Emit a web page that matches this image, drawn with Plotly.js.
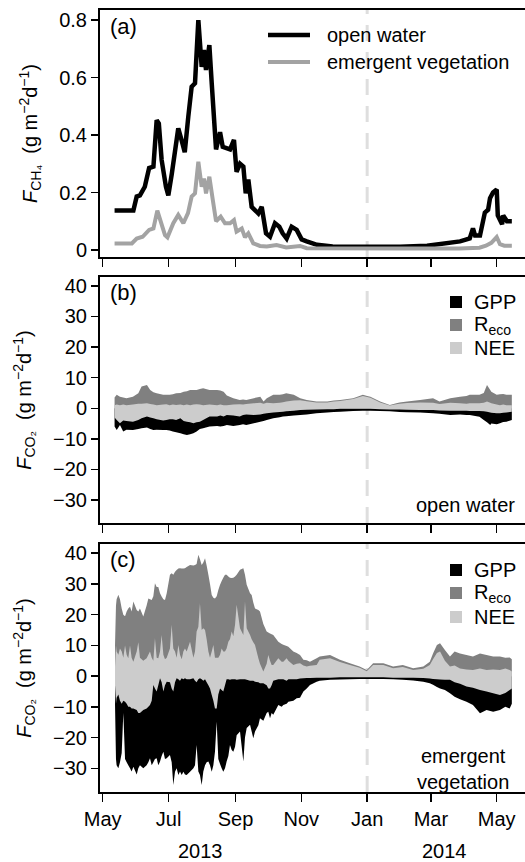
<!DOCTYPE html>
<html>
<head>
<meta charset="utf-8">
<script src="https://cdn.plot.ly/plotly-3.0.1.min.js"></script>
<style>
html,body{margin:0;padding:0;overflow:hidden;background:#fff;width:525px;height:862px;}
#chart{width:540px;height:862px;}
</style>
</head>
<body>
<div id="chart"></div>
<script>
// ---------- DATA (x values are days since 2013-05-01) ----------
// Panel (a): CH4 flux
const ch4DayOpenWater = [11,13,28.4,31.5,34.5,39,43,47,50,52,54.6,58.6,60.8,64,68,70,73,76,79.3,82.4,85.5,88.6,91.7,93.8,95.7,98.8,101,105,108.7,111.2,118,121.6,124,127.2,130.3,132.5,134.9,138,141,144.2,147.3,151.3,155,159.6,163.6,166.7,170.4,175,179.7,184.3,189,198.5,213,245,275.5,300.5,312.5,321.7,331,335.6,340,343,345,349.5,354,357,358.8,361.6,365,366,370,371,374.5,379];
const ch4OpenWater = [0.137,0.137,0.137,0.186,0.19,0.22,0.285,0.29,0.452,0.44,0.313,0.22,0.19,0.265,0.36,0.423,0.383,0.34,0.464,0.568,0.58,0.80,0.637,0.696,0.626,0.713,0.58,0.35,0.41,0.359,0.35,0.383,0.272,0.30,0.29,0.197,0.245,0.15,0.139,0.127,0.15,0.058,0.046,0.093,0.081,0.058,0.04,0.081,0.07,0.037,0.03,0.018,0.012,0.011,0.011,0.015,0.02,0.025,0.03,0.035,0.04,0.075,0.05,0.05,0.13,0.14,0.18,0.20,0.21,0.12,0.09,0.12,0.10,0.10];
const ch4DayEmergent = [11,27,31.5,37,43,47,50.6,52.5,57.7,60,65.4,70,74.7,79,82.4,85.5,88.6,91.7,93.8,95.7,98.8,102,105,109.3,113.3,118,121.6,124,128.8,131.8,134.9,139.5,145.7,152,161,170,182.8,189,220,280,330,349,355,360,365,368,372,379];
const ch4Emergent = [0.023,0.023,0.04,0.046,0.07,0.075,0.137,0.116,0.052,0.044,0.093,0.122,0.093,0.128,0.186,0.197,0.307,0.22,0.249,0.197,0.255,0.174,0.10,0.116,0.093,0.093,0.104,0.064,0.075,0.044,0.058,0.023,0.014,0.012,0.017,0.009,0.014,0.006,0.005,0.005,0.005,0.008,0.015,0.025,0.045,0.02,0.015,0.015];

// Panel (b): CO2 fluxes, open water (envelopes)
const owDay = [11,13,16,19,22,28,33,36,41,44,47,50,56,59,62,65,68,72,75,78,81,84,87,90,93,99,106,109,112,115,121,127,130,133,140,146,149,152,158,164,167,170,177,183,189,198,208,214,220,232,241,245,248,257,266,272,275,282,294,306,312,322,331,337,340,349,353,356,359,360,365,368,371,374,379];
const owReco = [3.5,4.4,3.8,3.5,3.3,3.8,4.9,7.1,7.6,6.0,5.2,4.9,4.4,4.4,4.4,4.6,4.9,5.0,5.4,5.6,6.0,6.0,6.0,6.3,6.5,6.0,6.0,5.8,5.4,4.2,3.3,2.7,2.9,2.7,3.3,3.8,2.2,3.3,4.4,4.4,4.6,4.9,4.4,3.3,2.7,2.2,2.2,2.5,2.7,3.3,4.4,4.0,3.8,2.2,1.1,1.6,1.9,2.2,2.7,3.3,2.2,3.3,3.8,4.0,4.4,4.4,5.0,7.6,6.0,5.4,4.4,4.6,4.7,4.4,4.4];
const owNeeHigh = [1.0,1.2,1.0,1.2,1.0,1.2,1.5,1.5,1.6,1.4,1.2,1.0,1.2,1.3,1.0,1.2,1.1,1.2,1.0,1.2,1.0,1.2,1.3,1.2,1.0,1.2,1.0,1.2,1.0,1.0,1.2,1.3,1.2,1.4,1.6,1.8,1.5,1.8,1.6,1.8,2.0,2.2,2.5,2.6,2.3,1.9,1.9,2.2,2.4,3.0,4.0,3.7,3.4,1.9,0.9,1.3,1.5,1.7,1.9,1.8,1.4,1.8,1.6,1.5,1.6,1.6,1.8,2.2,1.8,1.6,1.2,1.0,1.2,1.0,1.0];
const owNeeLow = [-3.0,-3.8,-4.9,-4.0,-4.2,-4.4,-3.8,-3.3,-2.7,-3.0,-3.3,-3.6,-4.0,-3.8,-3.6,-3.6,-3.8,-3.3,-4.2,-4.4,-4.6,-4.9,-4.6,-4.4,-3.8,-2.7,-2.7,-2.4,-2.7,-2.2,-2.4,-2.7,-2.2,-2.0,-2.2,-2.0,-1.8,-1.6,-1.4,-1.2,-1.1,-1.0,-0.8,-0.6,-0.5,-0.4,-0.3,-0.3,-0.2,-0.2,-0.2,-0.2,-0.2,-0.3,-0.4,-0.4,-0.4,-0.5,-0.6,-0.6,-0.7,-0.8,-0.8,-0.8,-0.9,-0.9,-1.0,-1.1,-1.4,-1.5,-1.6,-1.6,-1.5,-1.4,-1.1];
const owGpp = [-6.0,-7.1,-5.5,-7.6,-7.0,-7.1,-6.8,-6.5,-6.3,-6.8,-7.1,-7.0,-7.1,-7.1,-7.3,-7.6,-7.8,-8.2,-8.5,-8.7,-8.5,-8.2,-7.6,-6.8,-6.5,-6.0,-5.8,-6.0,-5.8,-5.5,-5.8,-5.5,-5.2,-5.5,-4.9,-4.4,-4.2,-3.8,-3.3,-2.9,-2.7,-2.6,-2.4,-2.2,-2.0,-1.6,-1.4,-1.2,-1.1,-0.9,-0.8,-0.8,-0.8,-0.9,-1.0,-1.1,-1.2,-1.3,-1.4,-1.6,-1.8,-2.2,-2.0,-2.2,-2.2,-2.8,-3.8,-4.6,-5.5,-5.0,-5.2,-4.9,-4.5,-4.4,-3.8];

// Panel (c): CO2 fluxes, emergent vegetation (envelopes)
const evDay = [11.4,12.3,12.9,14.5,16,17.6,19.1,20.7,22.2,23.7,
25.3,26.8,28.4,31.5,33,34.5,37.6,40.7,42.3,43.8,
45.4,46.9,48.4,50,51.5,53.1,54.6,56.2,57.7,59.3,
62.3,63.9,65.4,67,68.5,70.1,71.6,73.2,74.7,76.2,
77.8,80.9,84,85.5,87,88.6,90.1,91.7,93.2,94.8,
96.3,97.9,99.4,101,102.5,104,105.6,107.1,108.7,110.2,
111.7,113.3,114.8,116.4,117.9,119.5,121,122.6,124.1,127.2,
130.3,131.8,133.4,136.5,138,139.5,141.1,144.2,145.7,148.8,
151.9,153.4,155,156.5,158,162.7,165.8,167.3,170.4,172,
176.6,179.7,182.8,185.9,189,192,198.2,201,210.6,219.8,
229,238,244.6,250.5,260,269,278,287.6,297,303,
306,309.6,312.5,317,321.7,326,331,337,343,349.5,
355.6,361.7,368,373,377,379];
const evReco = [10,23,25,26.5,25,22,20,19.5,21,22,
22.6,21,24.3,21.5,21,22,19.4,23,25.3,25,
24.8,26,30.2,29,29,27,25.9,25,24.8,27,
33,33.5,33,34,34.5,35,35.1,35,35,35.1,
35.5,36.2,36,36.2,36.5,39.5,38,36.2,37,38.4,
36,33,30,26.4,25.5,25.3,26,28,29.7,31,
32,33,33,32.4,32,31.9,32,32.4,33,34.6,
35.1,33,29.7,27,26.4,24,22,21.5,21,17,
14.5,14.2,13.9,13.6,13.4,11.2,10.5,10.2,9.8,9.6,
8,7.5,6.9,5.3,5.2,4.7,5.8,6.4,6.9,5.3,
4.2,3.1,2.0,4.2,4.2,3.1,3.6,2.6,3.1,4.7,
7.4,10.1,10.7,8.5,6.4,8,7.4,6.9,6.4,7.4,
6.9,6.4,6.4,6.0,6.1,5.5];
const evNeeHigh = [3,10,8,7,9,8,6,10,7,5.8,
10,6,4.7,8,11,6,5,5.8,7,8,
6,5,12.3,6,5.8,8,13.4,7,5.5,6,
9,16.7,9,8,6,10.1,7,5.5,8,9,
8,11.2,6,8,14.5,16,23.7,15,15.6,15,
12,8,6,8,10.1,6,6,6,7,9,
8,8,9,11.2,12,14.5,13,16.7,23.2,15.6,
13.4,24.3,15.6,13.4,12,11,10.1,5.8,4,1.5,
4,6.9,5,3.6,3.6,5.8,4.7,4.7,5.8,5,
3.6,4,4.2,3.5,3.1,3.4,3.6,5.3,5.8,4.6,
3.6,2.7,1.6,3.6,3.6,2.6,3.0,2.0,2.4,3.6,
5.5,7.5,8,5,3.1,3.5,2.5,2.2,2.0,2.5,
2.0,2.2,2.0,2.5,2.0,1.5];
const evNeeLow = [-3,-9,-7,-6,-8,-9,-8,-8.3,-9,-10,
-10,-10.5,-10.5,-11,-12,-12,-11,-10.5,-10,-9.4,
-8,-2.9,-4,-5,-3,-0.7,-2,-5,-3,-1.8,
-2,-4,-5,-2,-0.7,-1,-1.5,-0.7,-1,-0.7,
-1,-1,-0.7,-1.5,-2,-1,-0.7,-1,-1.5,-1,
-2,-3,-4,-6.1,-8,-10.5,-10.5,-6,-4,-4.5,
-5,-3,-1,-1,-1.2,-1,-1,-1,-1.2,-1,
-1,-1,-1.2,-1.5,-1.5,-1.5,-1.8,-2,-2.3,-2.3,
-3,-4,-4,-3,-1.5,-1,-1,-1,-1.5,-1,
-1,-1,-0.8,-0.7,-0.6,-0.6,-0.5,-0.5,-0.5,-0.4,
-0.4,-0.4,-0.4,-0.4,-0.4,-0.5,-0.5,-0.5,-0.6,-0.8,
-0.9,-1,-1.1,-1.2,-1.2,-2,-2.5,-3.4,-3.8,-4.5,
-5.0,-5.6,-6.1,-5.5,-4.5,-4.0];
const evGpp = [-9,-27,-29,-30,-28,-25,-12,-27,-28,-29,
-30,-31,-29.5,-32,-30,-29,-30,-29,-28,-26.7,
-29,-28,-27,-26.7,-29,-27.8,-26,-24.6,-27,-26.7,
-25.7,-28,-35.4,-31.1,-30,-32.2,-31,-32.2,-31.1,-32,
-32.2,-31.1,-30,-29,-22.4,-31,-32.2,-35.4,-31,-29,
-28,-27.8,-29,-31.1,-29,-24.6,-14.8,-27,-28.6,-30,
-31.1,-30,-27.8,-26,-22.4,-24,-24.6,-23,-19.2,-18,
-27.8,-20,-16.9,-15.8,-18,-20.2,-18,-16,-13.7,-14.5,
-12,-11.6,-13.7,-12,-12.6,-9.4,-10,-9.4,-9,-8.3,
-8,-7.2,-7,-5,-4,-2.9,-1.8,-1.5,-1.2,-1.1,
-1.0,-0.9,-0.9,-0.9,-0.9,-1.0,-1.2,-1.4,-1.8,-2.3,
-2.8,-3.5,-4,-4.5,-5.6,-6.7,-7.5,-8.3,-9.4,-12.1,
-11,-11.6,-11,-10,-10.5,-9];

// Axis ticks and labels
const monthTickDates = ['2013-05-01','2013-07-01','2013-09-01','2013-11-01','2014-01-01','2014-03-01','2014-05-01'];
const monthTickLabels = ['May','Jul','Sep','Nov','Jan','Mar','May'];
const yearLabels = ['2013','2014'];
const yearLabelDates = ['2013-07-31','2014-03-14'];
const ch4TickVals = [0,0.2,0.4,0.6,0.8];
const ch4TickText = ['0','0.2','0.4','0.6','0.8'];
const co2TickVals = [-30,-20,-10,0,10,20,30,40];
const co2TickText = ['\u221230','\u221220','\u221210','0','10','20','30','40'];
const legendCH4 = ['open water','emergent vegetation'];
const legendCO2 = ['GPP','R<sub>eco</sub>','NEE'];

// ---------- helpers ----------
const BASE = Date.UTC(2013,4,1);
function dd(d){ return new Date(BASE + d*86400000).toISOString().slice(0,19).replace('T',' '); }
const W = 540, H = 862, L = 100;
const px = x => (x - L) / (W - L);   // page px -> paper x
const py = y => 1 - y / H;            // page px -> paper y

const FONT = 'Liberation Sans, Arial, Helvetica, sans-serif';
const FS = 20;
const BLACK = '#000000', RECO = '#808080', NEE = '#cccccc', EVLINE = '#a3a3a3';

const traces = [];
// (a)
traces.push({x: ch4DayOpenWater.map(dd), y: ch4OpenWater, type:'scatter', mode:'lines',
  line:{color:BLACK, width:4.5}, xaxis:'x', yaxis:'y', hoverinfo:'skip'});
traces.push({x: ch4DayEmergent.map(dd), y: ch4Emergent, type:'scatter', mode:'lines',
  line:{color:EVLINE, width:4}, xaxis:'x', yaxis:'y', hoverinfo:'skip'});
// (b) and (c): stacked areas; NEE drawn as a band between its low and high envelopes
function co2(day, reco, gpp, lo, hi, xa, ya){
  const x = day.map(dd);
  traces.push({x, y: reco, type:'scatter', mode:'none', fill:'tozeroy', fillcolor:RECO, xaxis:xa, yaxis:ya, hoverinfo:'skip'});
  traces.push({x, y: gpp, type:'scatter', mode:'none', fill:'tozeroy', fillcolor:BLACK, xaxis:xa, yaxis:ya, hoverinfo:'skip'});
  traces.push({x: x.concat(x.slice().reverse()), y: hi.concat(lo.slice().reverse()), type:'scatter', mode:'none',
    fill:'toself', fillcolor:NEE, xaxis:xa, yaxis:ya, hoverinfo:'skip'});
}
co2(owDay, owReco, owGpp, owNeeLow, owNeeHigh, 'x2', 'y2');
co2(evDay, evReco, evGpp, evNeeLow, evNeeHigh, 'x3', 'y3');

const xRange = [dd(-2.5), dd(405.1)];
function xax(anchor, labels){
  return {type:'date', range:xRange, anchor, tickmode:'array', tickvals:monthTickDates, ticktext:monthTickLabels,
    showticklabels:labels, ticks:'outside', ticklen:8, tickwidth:1.5, tickcolor:BLACK,
    showline:true, linewidth:2, linecolor:BLACK, mirror:true, showgrid:false, zeroline:false,
    tickfont:{family:FONT, size:FS, color:BLACK}, ticklabelstandoff:0, automargin:false};
}
function yax(anchor, dom, range, tv, tt, title){
  return {domain:dom, range, anchor, tickmode:'array', tickvals:tv, ticktext:tt, ticks:'outside', ticklen:7,
    tickwidth:1.5, tickcolor:BLACK, showline:true, linewidth:2, linecolor:BLACK, mirror:true,
    showgrid:false, zeroline:false, tickfont:{family:FONT, size:FS, color:BLACK}, automargin:false,
    title:{text:title, font:{family:FONT, size:FS, color:BLACK}, standoff:16}};
}
const unitTxt = '  (g m<sup>\u22122</sup>d<sup>\u22121</sup>)';
const layout = {
  width:W, height:H, margin:{l:L, r:0, t:0, b:0}, paper_bgcolor:'#fff', plot_bgcolor:'#fff',
  showlegend:false, font:{family:FONT, size:FS, color:BLACK},
  xaxis: xax('y', false), xaxis2: xax('y2', false), xaxis3: xax('y3', true),
  yaxis: yax('x', [py(257), py(10)], [-0.0244, 0.835], ch4TickVals, ch4TickText, '<i>F</i><sub>CH\u2084</sub>' + unitTxt),
  yaxis2: yax('x2', [py(523), py(277)], [-37.5, 42.9], co2TickVals, co2TickText, '<i>F</i><sub>CO\u2082</sub>' + unitTxt),
  yaxis3: yax('x3', [py(792), py(544)], [-37.7, 43.0], co2TickVals, co2TickText, '<i>F</i><sub>CO\u2082</sub>' + unitTxt),
  shapes: [], annotations: []
};
// dashed Jan 2014 line in each panel
['y','y2','y3'].forEach((ya,i)=>{
  layout.shapes.push({type:'line', layer:'below', xref:['x','x2','x3'][i], yref:ya+' domain',
    x0:'2014-01-01', x1:'2014-01-01', y0:0, y1:1, line:{color:'#dedede', width:3, dash:'16px,11px'}});
});
// panel labels
[['(a)',26],['(b)',292],['(c)',559]].forEach(([t,y])=>{
  layout.annotations.push({text:t, xref:'paper', yref:'paper', x:px(108), y:py(y), xanchor:'left', yanchor:'middle',
    showarrow:false, font:{family:FONT, size:22, color:BLACK}});
});
// legend (a)
[[35,BLACK,4.5],[62,EVLINE,4]].forEach(([y,c,w],i)=>{
  layout.shapes.push({type:'line', xref:'paper', yref:'paper', x0:px(268), x1:px(310), y0:py(y), y1:py(y), line:{color:c, width:w}});
  layout.annotations.push({text:legendCH4[i], xref:'paper', yref:'paper', x:px(325), y:py(y), xanchor:'left', yanchor:'middle',
    showarrow:false, font:{family:FONT, size:FS, color:BLACK}});
});
// legends (b) and (c)
[[302,325,348],[570,593,617]].forEach(ys=>{
  [BLACK,RECO,NEE].forEach((c,i)=>{
    layout.shapes.push({type:'rect', xref:'paper', yref:'paper', x0:px(450), x1:px(462), y0:py(ys[i]+6), y1:py(ys[i]-6),
      fillcolor:c, line:{width:0}});
    layout.annotations.push({text:legendCO2[i], xref:'paper', yref:'paper', x:px(472), y:py(ys[i]), xanchor:'left', yanchor:'middle',
      showarrow:false, font:{family:FONT, size:FS, color:BLACK}});
  });
});
layout.annotations.push({text:'open water', xref:'paper', yref:'paper', x:px(517), y:py(505), xanchor:'right', yanchor:'middle',
  showarrow:false, font:{family:FONT, size:FS, color:BLACK}});
layout.annotations.push({text:'emergent<br>vegetation', xref:'paper', yref:'paper', x:px(463), y:py(769), xanchor:'center', yanchor:'middle',
  align:'center', showarrow:false, font:{family:FONT, size:FS, color:BLACK}});
// year labels under the date axis
yearLabels.forEach((t,i)=>{
  layout.annotations.push({text:t, xref:'x3', yref:'paper', x:yearLabelDates[i], y:py(851), xanchor:'center', yanchor:'middle',
    showarrow:false, font:{family:FONT, size:FS, color:BLACK}});
});
Plotly.newPlot('chart', traces, layout, {displayModeBar:false, staticPlot:true});
</script>
</body>
</html>
